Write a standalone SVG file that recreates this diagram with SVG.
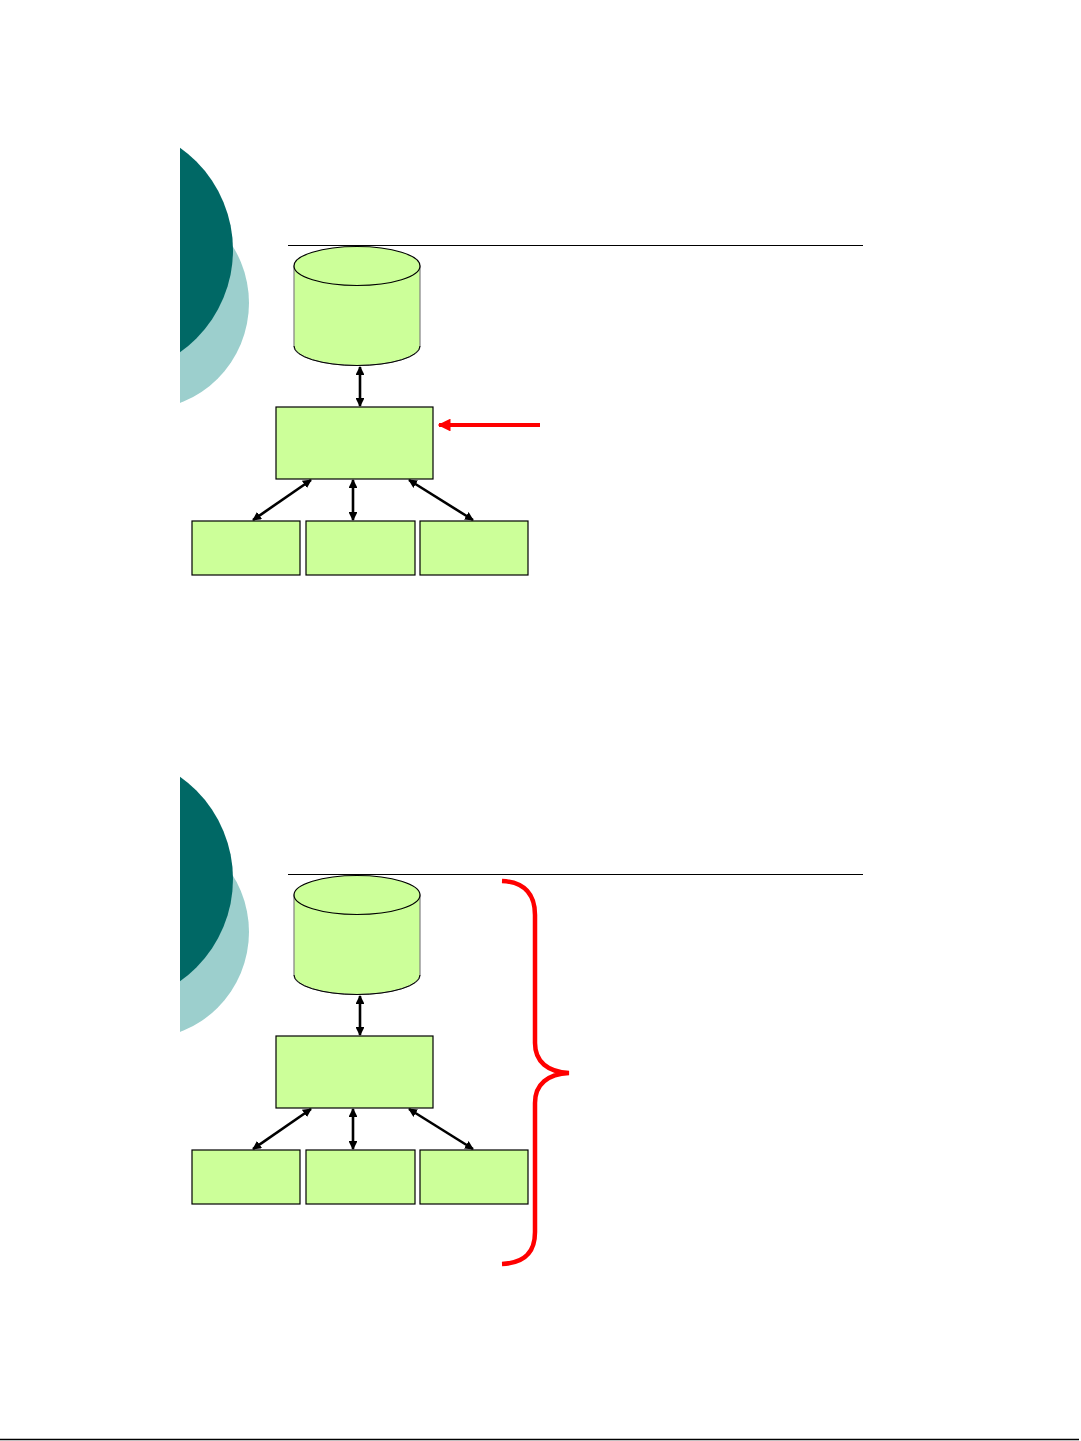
<svg xmlns="http://www.w3.org/2000/svg" width="1081" height="1441" viewBox="0 0 1081 1441">
<style>
.box{fill:#CCFF99;stroke:#000;stroke-width:1.2}
.cylside{fill:#CCFF99;stroke:#808080;stroke-width:1.2}
.cyledge{fill:none;stroke:#000;stroke-width:1}
.conn{stroke:#000;stroke-width:2.6;fill:none;marker-start:url(#ah);marker-end:url(#ah)}
.rule{stroke:#000;stroke-width:1}
.dark{fill:#006865}
.light{fill:#9CCFCD}
</style>
<defs>
<marker id="ah" viewBox="0 0 10 10" refX="9" refY="5" markerWidth="3.4" markerHeight="3.4" orient="auto-start-reverse" markerUnits="strokeWidth">
<path d="M0,0 L10,5 L0,10 Z" fill="#000"/>
</marker>
<marker id="redah" viewBox="0 0 10 10" refX="9" refY="5" markerWidth="3.2" markerHeight="3.2" orient="auto" markerUnits="strokeWidth">
<path d="M0,0 L10,5 L0,10 Z" fill="#FF0000"/>
</marker>
<clipPath id="clipL"><rect x="180" y="0" width="200" height="1441"/></clipPath>
</defs>
<rect width="1081" height="1441" fill="#fff"/>

<g id="decor-top" clip-path="url(#clipL)">
<circle class="light" cx="142" cy="303" r="107"/>
<circle class="dark" cx="108" cy="250" r="125"/>
</g>
<g id="decor-bottom" clip-path="url(#clipL)">
<circle class="light" cx="142" cy="932" r="107"/>
<circle class="dark" cx="108" cy="879" r="125"/>
</g>
<line class="rule" x1="288" y1="245.5" x2="863" y2="245.5"/>
<line class="rule" x1="288" y1="874.5" x2="863" y2="874.5"/>
<line x1="0" y1="1439.5" x2="1079" y2="1439.5" stroke="#000" stroke-width="1.5"/>

<g id="top-db">
<path class="cylside" d="M294,266 L294,346 A63,19.5 0 0 0 420,346 L420,266 Z"/>
<path class="cyledge" d="M294,346 A63,19.5 0 0 0 420,346"/>
<ellipse class="box" cx="357" cy="266" rx="63" ry="19.5" stroke-width="1"/>
</g>
<g id="top-mid"><rect class="box" x="276" y="407" width="157" height="72"/></g>
<g id="top-b1"><rect class="box" x="192" y="521" width="108" height="54"/></g>
<g id="top-b2"><rect class="box" x="306" y="521" width="109" height="54"/></g>
<g id="top-b3"><rect class="box" x="420" y="521" width="108" height="54"/></g>

<g id="bot-db">
<path class="cylside" d="M294,895 L294,975 A63,19.5 0 0 0 420,975 L420,895 Z"/>
<path class="cyledge" d="M294,975 A63,19.5 0 0 0 420,975"/>
<ellipse class="box" cx="357" cy="895" rx="63" ry="19.5" stroke-width="1"/>
</g>
<g id="bot-mid"><rect class="box" x="276" y="1036" width="157" height="72"/></g>
<g id="bot-b1"><rect class="box" x="192" y="1150" width="108" height="54"/></g>
<g id="bot-b2"><rect class="box" x="306" y="1150" width="109" height="54"/></g>
<g id="bot-b3"><rect class="box" x="420" y="1150" width="108" height="54"/></g>

<g id="connectors">
<line class="conn" x1="360" y1="367" x2="360" y2="406"/>
<line class="conn" x1="311" y1="480" x2="253" y2="520"/>
<line class="conn" x1="353" y1="480" x2="353" y2="520"/>
<line class="conn" x1="409" y1="480" x2="473" y2="520"/>
<line x1="540" y1="425" x2="439" y2="425" stroke="#FF0000" stroke-width="4" marker-end="url(#redah)"/>

<line class="conn" x1="360" y1="996" x2="360" y2="1035"/>
<line class="conn" x1="311" y1="1109" x2="253" y2="1149"/>
<line class="conn" x1="353" y1="1109" x2="353" y2="1149"/>
<line class="conn" x1="409" y1="1109" x2="473" y2="1149"/>
<path d="M502,881 C525,882 535,895 535,915 L535,1043 C535,1062 548,1072 569,1073 C548,1074 535,1084 535,1103 L535,1232 C535,1252 525,1263 502,1264" fill="none" stroke="#FF0000" stroke-width="4.5"/>
</g>
</svg>
